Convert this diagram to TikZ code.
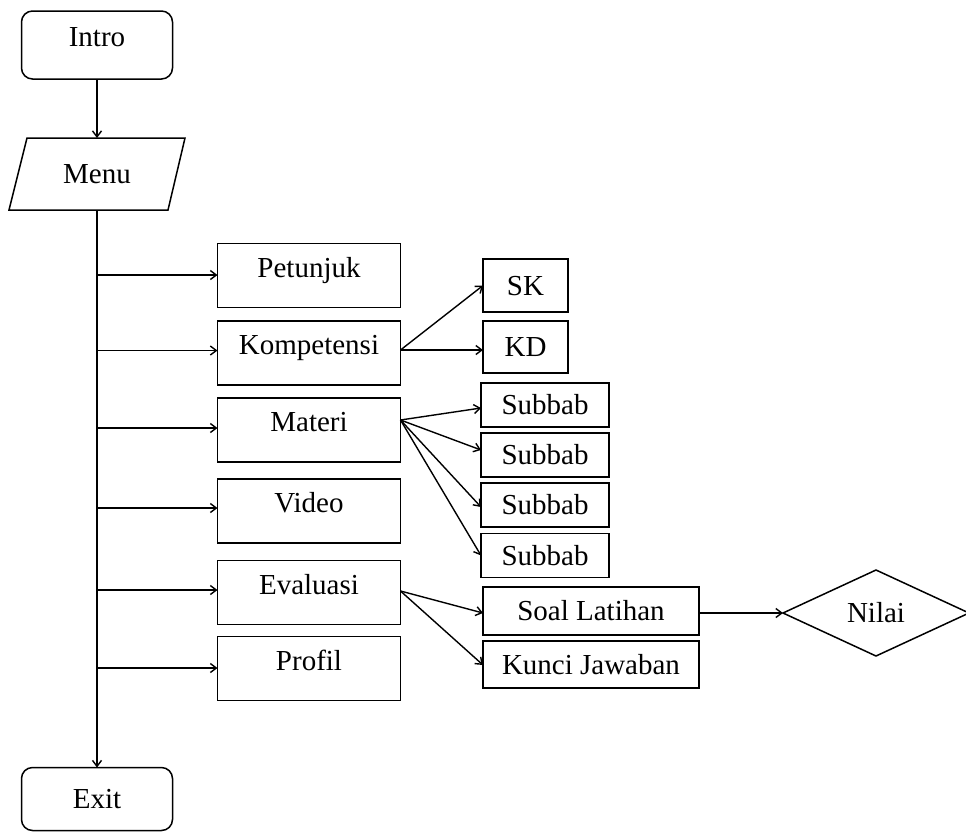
\documentclass[tikz,border=0pt]{standalone}
\usepackage{fontspec}
\setmainfont{Liberation Serif}
\usetikzlibrary{arrows.meta,shapes.geometric}
\begin{document}
\begin{tikzpicture}[x=1pt,y=-1pt,
  every node/.style={font=\fontsize{29}{33}\selectfont, inner sep=0pt, outer sep=0pt},
  box/.style={draw, line width=1.5pt, rectangle},
  uptext/.style={text height=20pt, text depth=17pt},
  midtext/.style={text height=20pt, text depth=1pt},
  mainbox/.style={box, uptext, minimum width=183pt, minimum height=64pt},
  termbox/.style={box, rounded corners=11pt, minimum width=151pt},
  subbox/.style={box, midtext, minimum width=128pt, minimum height=44pt},
  smallbox/.style={box, midtext, minimum width=85pt, minimum height=53pt},
  evbox/.style={box, midtext, minimum width=216pt, minimum height=47pt},
  conn/.style={line width=1.4pt},
  arr/.style={conn, -{Straight Barb[length=6pt,width=9pt,line width=1.4pt]}}
]
\useasboundingbox (0,0) rectangle (966,836);

% terminals
\node[termbox, uptext, minimum height=68pt] (intro) at (97,45) {Intro};
\node[termbox, midtext, minimum height=63pt] (exit) at (97,799) {Exit};

% menu (parallelogram)
\node[midtext, minimum width=140pt, minimum height=72pt] (menu) at (97,174) {Menu};
\draw[line width=1.5pt] (27,138) -- (185,138) -- (168,210) -- (9,210) -- cycle;

% main options
\node[mainbox] (petunjuk) at (309,275.5) {Petunjuk};
\node[mainbox] (komp) at (309,353) {Kompetensi};
\node[mainbox] (materi) at (309,430) {Materi};
\node[mainbox] (video) at (309,511) {Video};
\node[mainbox] (evaluasi) at (309,592.5) {Evaluasi};
\node[mainbox] (profil) at (309,668.5) {Profil};

% sub options
\node[smallbox] (sk) at (525.5,285.5) {SK};
\node[smallbox, minimum height=52pt] (kd) at (525.5,347) {KD};
\node[subbox] (s1) at (545,405) {Subbab};
\node[subbox] (s2) at (545,455) {Subbab};
\node[subbox] (s3) at (545,505) {Subbab};
\node[subbox] (s4) at (545,555.5) {Subbab};
\node[evbox, minimum height=48pt] (soal) at (591,611) {Soal Latihan};
\node[evbox] (kunci) at (591,664.5) {Kunci Jawaban};
\node[diamond, draw, line width=1.5pt, midtext, minimum width=186pt, minimum height=86pt] (nilai) at (876,613) {Nilai};

% trunk
\draw[arr] (intro.south) -- (menu.north);
\draw[arr] (menu.south) -- (exit.north);

\coordinate (b1) at (97,275);
\coordinate (b2) at (97,350.5);
\coordinate (b3) at (97,428);
\coordinate (b4) at (97,508);
\coordinate (b5) at (97,590);
\coordinate (b6) at (97,668);
\draw[arr] (b1) -- (b1 -| petunjuk.west);
\draw[arr] (b2) -- (b2 -| komp.west);
\draw[arr] (b3) -- (b3 -| materi.west);
\draw[arr] (b4) -- (b4 -| video.west);
\draw[arr] (b5) -- (b5 -| evaluasi.west);
\draw[arr] (b6) -- (b6 -| profil.west);

% kompetensi
\coordinate (ko) at ([yshift=3pt]komp.east);
\draw[arr] (ko) -- (sk.west);
\draw[arr] (ko) -- (ko -| kd.west);

% materi
\coordinate (mo) at ([yshift=10pt]materi.east);
\draw[arr] (mo) -- ([yshift=-3pt]s1.west);
\draw[arr] (mo) -- ([yshift=5pt]s2.west);
\draw[arr] (mo) -- ([yshift=-2pt]s3.west);
\draw[arr] (mo) -- (s4.west);

% evaluasi
\coordinate (eo) at ([yshift=1.5pt]evaluasi.east);
\draw[arr] (eo) -- ([yshift=-2pt]soal.west);
\draw[arr] (eo) -- ([yshift=-0.5pt]kunci.west);

% nilai
\draw[arr] (soal.east |- nilai.west) -- (nilai.west);
\end{tikzpicture}
\end{document}
